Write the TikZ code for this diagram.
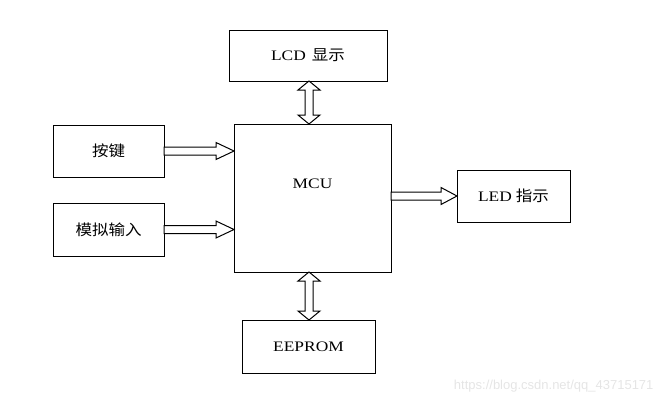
\documentclass[tikz,border=0pt]{standalone}
\usepackage{fontspec}
\setmainfont{Liberation Serif}[FakeStretch=1.2]
\newfontfamily\cjk{Noto Sans CJK SC}[FakeStretch=1.1]
\newfontfamily\wmfont{Liberation Sans}
\usetikzlibrary{calc}
\tikzset{
  boxline/.style={draw=black, line width=1pt},
  blkarrow/.style={draw=black, line width=1pt, fill=white, line join=miter},
  lat/.style={font=\fontsize{14.5}{16}\selectfont},
}
\newcommand{\cj}[1]{{\cjk\fontsize{15}{17}\selectfont #1}}
\newcommand{\harrowdraw}[3]{% from, to, head length
  \draw[blkarrow] let \p1=(#1), \p2=(#2) in
    (\x1,\y1+4pt) -- (\x2-#3,\y1+4pt) -- (\x2-#3,\y1+8.5pt) -- (\x2,\y1)
    -- (\x2-#3,\y1-8.5pt) -- (\x2-#3,\y1-4pt) -- (\x1,\y1-4pt) -- cycle;}
\newcommand{\vdarrowdraw}[2]{% top, bottom
  \draw[blkarrow] let \p1=(#1), \p2=(#2) in
    (\x1,\y1) -- (\x1+11pt,\y1-9pt) -- (\x1+4pt,\y1-9pt) -- (\x1+4pt,\y2+9pt)
    -- (\x1+11pt,\y2+9pt) -- (\x2,\y2) -- (\x1-11pt,\y2+9pt) -- (\x1-4pt,\y2+9pt)
    -- (\x1-4pt,\y1-9pt) -- (\x1-11pt,\y1-9pt) -- cycle;}
\begin{document}
\begin{tikzpicture}[x=1pt,y=-1pt]
\useasboundingbox (0,0) rectangle (661,405);
% boxes
\draw[boxline] (229,30) rectangle (387,81);
\node[lat] (lcd) at (308,55.5) {LCD\hspace{6pt}\cj{显示}};
\coordinate (lcdS) at (309,81);

\draw[boxline] (234,124) rectangle (391,272);
\node[lat] (mcu) at (312.5,184) {MCU};
\coordinate (mcuN) at (309,124);
\coordinate (mcuS) at (309,272);
\coordinate (mcuW1) at (234,151);
\coordinate (mcuW2) at (234,229.5);
\coordinate (mcuE) at (391,196);

\draw[boxline] (53,125) rectangle (164,177);
\node (key) at (108.5,151) {\cj{按键}};
\coordinate (keyE) at (164,151);

\draw[boxline] (53,203) rectangle (164,256);
\node (ana) at (108.5,229.5) {\cj{模拟输入}};
\coordinate (anaE) at (164,229.5);

\draw[boxline] (457,170) rectangle (570,222);
\node[lat] (led) at (513.5,196) {LED\hspace{4pt}\cj{指示}};
\coordinate (ledW) at (457,196);

\draw[boxline] (242,320) rectangle (375,373);
\node[lat] (eep) at (308.5,346.5) {EEPROM};
\coordinate (eepN) at (309,320);

% arrows
\harrowdraw{keyE}{mcuW1}{18pt}
\harrowdraw{anaE}{mcuW2}{18pt}
\harrowdraw{mcuE}{ledW}{16pt}
\vdarrowdraw{lcdS}{mcuN}
\vdarrowdraw{mcuS}{eepN}

% watermark
\node[font=\wmfont\fontsize{13}{15}\selectfont, text=black!10, anchor=east] (wm) at (657,386) {https://blog.csdn.net/qq\_43715171};
\end{tikzpicture}
\end{document}
